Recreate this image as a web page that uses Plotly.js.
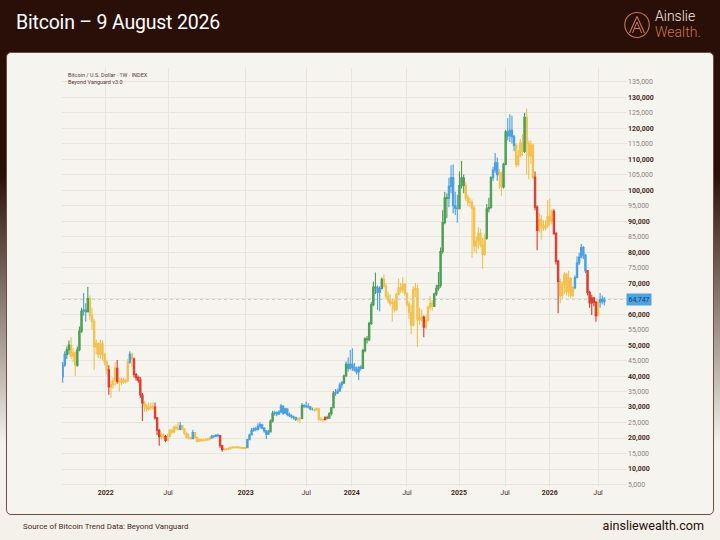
<!DOCTYPE html>
<html>
<head>
<meta charset="utf-8">
<script src="https://cdn.plot.ly/plotly-3.0.1.min.js"></script>
<style>
  html, body { margin: 0; padding: 0; }
  body {
    width: 720px; height: 540px; overflow: hidden; position: relative;
    font-family: Roboto, "Noto Sans", sans-serif;
    background: linear-gradient(to bottom, #2a0e08 0%, #2a0e08 32%, #f3f1ea 82%, #f3f1ea 100%);
  }
  #title { position: absolute; left: 16px; top: 11px; color: #ffffff; font-size: 19.5px; font-weight: 400; letter-spacing: -0.2px; white-space: nowrap; }
  #logo { position: absolute; left: 622px; top: 9px; width: 96px; height: 34px; }
  #logo svg { position: absolute; left: 0; top: 1px; }
  #logo .l1 { position: absolute; left: 33px; top: 0px; font-size: 14px; font-weight: 300; color: #f3ece6; line-height: 14px; }
  #logo .l2 { position: absolute; left: 33px; top: 16px; font-size: 14px; font-weight: 300; color: #c8784c; line-height: 14px; }
  #card { position: absolute; left: 6px; top: 52px; width: 706px; height: 461px; border: 1px solid #6d4d3f; border-radius: 5px; background: #f5f4ef; }
  #chart { position: absolute; left: 0; top: 0; width: 720px; height: 540px; }
  #src { position: absolute; left: 23px; top: 522px; font-size: 7.9px; color: #4a2a20; white-space: nowrap; }
  #site { position: absolute; right: 16px; top: 518px; font-size: 12.6px; color: #2a0e08; white-space: nowrap; }
</style>
</head>
<body>
<div id="title">Bitcoin – 9 August 2026</div>
<div id="logo">
  <svg width="30" height="30" viewBox="0 0 30 30">
    <path d="M15 2.5 C22 2.5 27.5 8 27.2 15 C27 22 21.5 27.5 15 27.5 C8.5 27.5 3 22 2.8 15 C2.5 8 8 2.5 15 2.5 Z" fill="none" stroke="#c8784c" stroke-width="1.1"/>
    <path d="M7.5 23 L15 6.5 L22.5 23" fill="none" stroke="#c8784c" stroke-width="1.1" stroke-linejoin="round"/>
    <path d="M10.5 23 L15 12 L19.5 23" fill="none" stroke="#c8784c" stroke-width="1" stroke-linejoin="round"/>
    <path d="M11.8 18.5 L18.2 18.5" fill="none" stroke="#c8784c" stroke-width="1"/>
  </svg>
  <div class="l1">Ainslie</div>
  <div class="l2">Wealth.</div>
</div>
<div id="card"></div>
<div id="chart"></div>
<div id="src">Source of Bitcoin Trend Data: Beyond Vanguard</div>
<div id="site">ainsliewealth.com</div>
<script>
// ---- Data (weekly candles, prices in thousands of USD) ----
const FIRST_OPEN_K = 39.7;

const CLOSE_K = [
  43.5,47.0,48.5,50.0,46.5,47.5,43.5,48.5,54.5,61.0,
  61.3,60.8,65.0,59.5,57.5,49.5,50.5,47.0,50.5,47.0,
  44.5,42.0,36.5,37.2,38.5,42.5,38.3,38.0,38.8,38.2,
  38.5,44.5,47.0,45.5,40.5,39.5,38.7,33.9,31.3,30.3,
  29.5,30.0,29.8,30.0,26.5,22.5,20.4,21.0,20.5,19.2,
  20.5,22.5,22.0,23.5,23.2,22.8,24.0,23.0,21.5,20.2,
  20.0,19.8,21.8,20.2,19.0,19.4,19.1,19.3,19.4,19.6,
  20.0,20.6,20.5,20.9,20.8,17.5,16.3,16.5,16.4,16.6,
  16.9,17.1,16.9,17.1,16.8,16.9,16.6,16.9,19.5,21.0,
  22.5,23.0,22.8,23.8,24.3,23.2,22.3,21.2,22.0,25.5,
  28.0,28.2,27.8,28.4,30.3,28.0,29.4,27.6,27.2,26.8,
  26.7,26.0,26.2,26.3,30.5,30.3,30.2,30.0,29.3,29.3,
  29.0,29.4,26.1,26.0,25.9,26.6,26.4,27.9,29.8,34.5,
  34.6,35.2,37.1,37.8,40.0,43.8,42.5,43.8,42.8,42.0,
  41.3,42.8,42.5,48.2,52.0,51.7,57.0,63.0,68.7,68.5,
  67.0,68.2,71.2,69.0,65.8,64.5,63.5,63.8,61.5,66.3,
  68.5,67.8,69.5,66.7,63.2,60.5,56.5,67.9,68.2,58.1,
  58.7,59.0,55.8,58.0,62.2,63.5,62.5,66.5,68.3,69.2,
  80.2,89.5,97.5,97.3,101.2,104.0,95.0,94.2,94.0,101.5,
  104.0,101.5,97.5,96.2,96.0,94.2,82.0,83.5,86.1,82.3,
  79.2,84.5,94.0,94.4,104.0,106.5,108.8,105.0,105.6,101.0,
  108.3,118.8,117.5,119.3,117.2,114.5,108.3,111.1,115.3,112.5,
  123.5,115.0,111.0,114.5,104.2,94.5,87.0,90.4,88.5,87.8,
  88.5,91.5,90.0,93.2,86.0,77.0,70.5,66.0,69.5,72.8,
  67.2,71.5,66.0,68.5,71.8,76.5,78.4,81.5,79.0,74.0,
  67.0,63.6,65.2,63.8,59.5,63.8,64.8,64.0,64.747
];

const HIGH_K = [
  44.5,48.0,49.5,51.5,52.5,49.0,48.0,49.5,56.0,62.0,
  66.8,63.5,68.7,66.0,62.0,58.5,51.8,50.8,51.8,51.5,
  47.5,45.0,43.5,38.5,39.5,44.5,45.2,39.5,39.5,39.5,
  39.2,45.5,48.0,47.5,46.0,41.0,40.2,39.8,34.5,32.0,
  31.0,31.5,31.5,31.5,31.5,26.8,23.0,21.8,21.5,21.0,
  21.3,22.8,23.0,24.0,24.3,25.2,25.2,24.2,23.0,21.8,
  21.5,20.4,22.7,21.9,20.5,19.9,19.8,19.7,19.9,20.0,
  20.4,21.0,21.0,21.3,21.4,21.0,17.8,16.9,16.8,17.0,
  17.3,17.4,17.3,17.5,17.3,17.2,17.0,17.1,19.8,21.5,
  23.2,23.4,23.6,24.8,25.2,24.6,23.5,22.6,22.6,26.0,
  28.8,28.8,28.6,29.0,31.0,30.5,29.8,29.4,28.2,27.7,
  27.2,26.9,26.8,26.8,31.3,31.0,31.8,31.2,30.3,29.8,
  29.5,29.8,29.6,26.7,26.2,27.0,27.2,28.3,30.0,35.2,
  35.8,36.0,37.9,38.4,40.5,44.7,46.0,48.4,49.0,44.2,
  43.0,43.2,43.5,48.8,52.5,52.9,57.5,64.0,70.5,73.4,
  69.2,69.0,71.8,72.8,70.0,67.2,66.5,65.0,64.5,67.0,
  71.5,70.0,72.0,70.0,67.0,64.0,63.0,69.0,70.0,69.5,
  62.0,61.5,59.5,59.5,62.8,65.8,64.5,67.0,69.5,73.6,
  81.5,93.5,99.5,99.0,104.0,108.0,108.3,99.5,98.5,106.0,
  109.5,105.0,102.5,98.5,97.5,97.0,95.0,85.0,88.0,87.5,
  84.5,86.0,95.5,97.5,104.5,107.5,112.0,110.5,106.8,106.0,
  108.8,119.5,123.2,124.5,124.0,117.8,115.0,113.0,116.5,118.0,
  125.0,126.3,116.0,116.0,115.0,106.0,95.0,92.5,92.0,90.3,
  90.3,96.8,97.2,94.0,93.8,86.5,77.5,71.5,70.5,73.5,
  73.2,74.0,72.0,69.0,72.5,78.6,79.8,82.6,82.0,79.5,
  74.2,67.5,66.2,65.6,64.2,64.6,66.8,66.0,65.5
];

const LOW_K = [
  37.8,43.0,45.5,47.0,45.5,44.5,40.0,43.0,48.0,54.0,
  59.5,57.5,60.5,58.0,55.0,42.0,47.0,45.8,45.5,45.0,
  43.5,40.5,34.0,33.0,36.0,37.0,37.5,35.0,37.0,37.5,
  37.6,38.0,44.0,43.0,39.5,38.5,37.8,33.0,25.5,28.5,
  28.5,28.8,29.0,29.2,26.0,21.0,17.5,19.5,19.8,18.6,
  19.0,20.2,21.2,21.5,22.5,22.5,22.5,22.5,21.0,19.8,
  19.5,19.5,19.6,19.8,18.6,18.8,18.9,19.0,19.0,19.1,
  19.3,19.8,20.0,20.3,20.2,16.8,15.6,15.9,16.0,16.1,
  16.3,16.6,16.6,16.7,16.6,16.5,16.4,16.4,16.8,19.3,
  20.8,22.0,22.2,22.4,23.0,22.8,21.7,19.7,21.0,21.8,
  25.0,27.2,27.0,27.4,28.0,27.5,27.8,27.0,26.8,26.3,
  26.0,25.5,25.2,24.8,26.2,29.6,29.7,29.5,29.0,28.9,
  28.5,28.8,25.3,25.5,25.2,25.8,26.1,26.3,27.3,29.6,
  33.6,34.2,34.9,36.0,37.4,39.8,41.5,42.0,41.6,41.5,
  40.5,38.7,41.8,42.3,47.7,50.5,51.2,56.5,62.5,66.5,
  61.3,60.8,68.0,68.5,65.0,63.5,62.5,57.5,60.5,61.0,
  66.0,66.8,67.0,65.8,62.3,58.5,53.5,56.0,65.5,49.4,
  56.5,57.5,52.5,55.2,57.5,61.5,61.0,62.3,65.8,67.5,
  68.5,79.5,89.0,91.0,94.5,99.0,92.5,92.0,89.5,93.8,
  100.5,99.0,96.5,94.8,94.5,78.2,80.0,79.6,81.0,81.5,
  74.6,78.8,84.0,92.8,94.0,103.0,105.5,103.0,100.5,98.2,
  100.5,108.0,116.0,115.5,115.0,112.5,107.3,107.5,110.5,111.0,
  112.0,105.0,103.5,108.5,103.5,93.5,80.6,86.3,84.0,86.8,
  87.0,87.8,88.5,89.0,85.5,76.0,60.3,63.5,65.0,66.5,
  66.0,65.5,65.2,65.5,68.0,71.5,75.8,78.0,77.8,73.2,
  66.0,62.0,59.7,62.5,57.5,59.2,62.0,63.2,62.8
];

// Trend state per candle: b = blue, g = green, y = yellow, r = red
const STATES = ("bb gg yyy ggg bb g yyyyyyyyy r yyy r yyyyy b y rrrrr yyyyy rrr yy r yyyyyy b yyyyy b " +
  "yyyyyyyy bbbb rr yyyyyyyyyyy bbbbbbbbbbb gg bbbbbbbbbbb yy g bbbbb yyyyy r gggg bbbb gg bbbbbbb " +
  "ggggggg bb g yyyyyyyyyyyyyyyyyyy r yyyy ggggggg bbbbb ggg yyyyyyyyyy ggg bbb yy gg bbbb yyyy g " +
  "yyyy rr yyyyyyy rrr yyyyyyy bbbbbb rrrrr y bbb").replace(/\s+/g, "").split("");

const STATE_COLORS = { b: "#4a9fe3", g: "#4c9e55", y: "#f2c14e", r: "#e03a2c" };
const STATE_NAMES = { b: "Blue", g: "Green", y: "Yellow", r: "Red" };

// Axis ticks (positions in candle-index units)
const X_TICK_POS = [20.5, 50.2, 87.2, 116, 137.7, 164, 188.8, 210.7, 232, 255];
const X_TICK_TEXT = ["2022", "Jul", "2023", "Jul", "2024", "Jul", "2025", "Jul", "2026", "Jul"];
const Y_TICKS = [5000,10000,15000,20000,25000,30000,35000,40000,45000,50000,55000,60000,65000,70000,
  75000,80000,85000,90000,95000,100000,105000,110000,115000,120000,125000,130000,135000];
const LAST_PRICE = 64747;

// ---- Build traces ----
const K = 1000;
const n = Math.min(CLOSE_K.length, HIGH_K.length, LOW_K.length, STATES.length);
const OPEN_K = CLOSE_K.map((c, i) => i === 0 ? FIRST_OPEN_K : CLOSE_K[i - 1]);

const traces = ["y", "b", "g", "r"].map(s => {
  const idx = [];
  for (let i = 0; i < n; i++) if (STATES[i] === s) idx.push(i);
  const c = STATE_COLORS[s];
  return {
    type: "candlestick",
    name: STATE_NAMES[s],
    x: idx,
    open: idx.map(i => OPEN_K[i] * K),
    high: idx.map(i => HIGH_K[i] * K),
    low: idx.map(i => LOW_K[i] * K),
    close: idx.map(i => CLOSE_K[i] * K),
    increasing: { line: { color: c, width: 1.1 }, fillcolor: c },
    decreasing: { line: { color: c, width: 1.1 }, fillcolor: c },
    whiskerwidth: 0,
    hoverinfo: "y"
  };
});

const fmt = v => v.toLocaleString("en-US");
const yTickText = Y_TICKS.map(v => v % 10000 === 0 ? "<b>" + fmt(v) + "</b>" : '<span style="color:#8f847d">' + fmt(v) + "</span>");
const xTickText = X_TICK_TEXT.map(t => /^\d+$/.test(t) ? "<b>" + t + "</b>" : t);

const layout = {
  width: 720, height: 540,
  margin: { l: 62, r: 93, t: 68, b: 53, pad: 0 },
  paper_bgcolor: "rgba(0,0,0,0)",
  plot_bgcolor: "rgba(0,0,0,0)",
  showlegend: false,
  boxgap: 0.1,
  font: { family: "Roboto, 'Noto Sans', sans-serif", size: 7, color: "#4a2a20" },
  xaxis: {
    range: [-0.3, 268.8],
    tickvals: X_TICK_POS, ticktext: xTickText,
    showgrid: true, gridcolor: "#e7e5de", gridwidth: 1,
    zeroline: false, showline: false, ticks: "",
    tickfont: { size: 7, color: "#4a2a20" },
    rangeslider: { visible: false },
    fixedrange: true
  },
  yaxis: {
    side: "right",
    range: [4200, 139400],
    tickvals: Y_TICKS, ticktext: yTickText,
    showgrid: true, gridcolor: "#e7e5de", gridwidth: 1,
    zeroline: false, showline: false, ticks: "",
    tickfont: { size: 7, color: "#4a2a20" },
    fixedrange: true
  },
  shapes: [{
    type: "line", xref: "paper", x0: 0, x1: 1, yref: "y", y0: LAST_PRICE, y1: LAST_PRICE,
    line: { color: "#c2beb8", width: 0.8, dash: "dot" }, layer: "below"
  }],
  annotations: [
    {
      xref: "paper", yref: "paper", x: 0.007, y: 1, xanchor: "left", yanchor: "top", yshift: -2,
      align: "left", showarrow: false,
      text: "Bitcoin / U.S. Dollar · 1W · INDEX<br>Beyond Vanguard v3.0",
      font: { size: 5.5, color: "#5a3a30" }
    },
    {
      xref: "paper", yref: "y", x: 1, y: LAST_PRICE, xanchor: "left", yanchor: "middle", xshift: -1,
      showarrow: false, text: fmt(LAST_PRICE), bgcolor: "#4da3e6", borderpad: 1.5,
      font: { size: 7, color: "#163a5c" }
    }
  ]
};

Plotly.newPlot("chart", traces, layout, { displayModeBar: false, staticPlot: true });
</script>
</body>
</html>
